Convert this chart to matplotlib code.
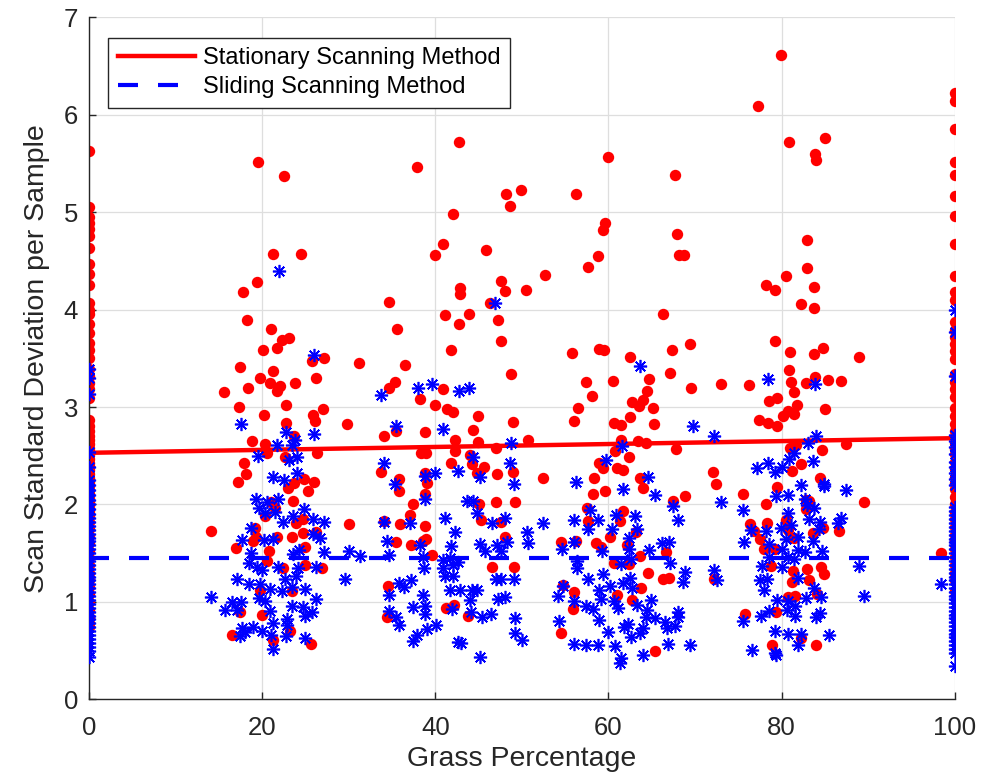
import numpy as np
import matplotlib
matplotlib.use('Agg')
import matplotlib.pyplot as plt

plt.rcParams['font.family'] = ['Liberation Sans', 'DejaVu Sans']

# ---- datos ----
# columnas en 0% y 100% de cesped (solo valores de y)
stat_0_y = [5.63, 5.05, 4.95, 4.89, 4.83, 4.76, 4.63, 4.47, 4.36, 4.25, 4.07, 4.00, 3.95, 3.85,
            3.76, 3.66, 3.58, 3.50, 3.39, 3.32, 3.25, 3.18, 3.09, 2.87, 2.80, 2.75, 2.70, 2.66,
            2.62, 2.58, 2.55, 2.51, 2.47, 2.43, 2.39, 2.35, 2.31, 2.27, 2.23, 2.19, 2.15, 2.11,
            2.07, 2.03, 1.98, 1.93, 1.88, 1.82, 1.75, 1.68, 1.60, 1.52, 1.45, 1.38, 1.30, 1.22,
            1.15, 1.08, 1.00, 0.92, 0.85, 0.78, 0.74]
slide_0_y = [3.39, 3.30, 3.13, 2.54, 2.38, 2.25, 2.20, 2.15, 2.10, 2.05, 2.00, 1.95, 1.90, 1.86,
             1.82, 1.78, 1.74, 1.70, 1.66, 1.62, 1.58, 1.54, 1.50, 1.46, 1.42, 1.38, 1.34, 1.30,
             1.26, 1.22, 1.18, 1.14, 1.10, 1.06, 1.02, 0.98, 0.94, 0.90, 0.86, 0.82, 0.78, 0.74,
             0.70, 0.66, 0.62, 0.58, 0.54, 0.50, 0.43]
stat_100_y = [6.22, 6.14, 5.85, 5.51, 5.38, 5.17, 4.96, 4.67, 4.34, 4.18, 4.10, 3.87, 3.79, 3.72,
              3.65, 3.57, 3.49, 3.34, 3.26, 3.18, 3.10, 2.99, 2.91, 2.83, 2.75, 2.69, 2.63, 2.57,
              2.52, 2.44, 2.36, 2.28, 2.22, 2.16, 2.08, 2.00, 1.92, 1.85, 1.77, 1.69, 1.62, 1.54,
              1.46, 1.38, 1.30, 1.22, 1.11]
slide_100_y = [4.00, 3.77, 3.32, 2.71, 2.65, 2.59, 2.52, 2.44, 2.38, 2.32, 2.26, 2.20, 1.97, 1.93,
               1.89, 1.85, 1.81, 1.77, 1.73, 1.69, 1.65, 1.61, 1.58, 1.54, 1.50, 1.46, 1.42, 1.38,
               1.34, 1.30, 1.26, 1.22, 1.18, 1.14, 1.10, 1.06, 1.03, 0.99, 0.95, 0.91, 0.87, 0.83,
               0.79, 0.75, 0.71, 0.67, 0.64, 0.60, 0.56, 0.52, 0.48, 0.34]

# grupos intermedios: (porcentaje, desviacion)
stat_20 = [(19.5, 5.51), (22.5, 5.37), (21.2, 4.57), (24.5, 4.57), (19.4, 4.28), (17.8, 4.18),
           (18.2, 3.89), (21.0, 3.80), (22.3, 3.69), (23.1, 3.71), (20.1, 3.58), (21.7, 3.61),
           (27.1, 3.50), (25.8, 3.47), (31.2, 3.45), (17.4, 3.41), (21.2, 3.37), (26.2, 3.30),
           (19.8, 3.30), (20.9, 3.25), (22.1, 3.22), (18.4, 3.20), (23.8, 3.25), (21.7, 3.16),
           (15.6, 3.15), (17.3, 3.00), (22.7, 3.02), (27.0, 2.98), (20.2, 2.92), (25.9, 2.92),
           (26.1, 2.86), (29.8, 2.83), (22.8, 2.84), (23.7, 2.70), (18.8, 2.65), (20.3, 2.62),
           (20.6, 2.53), (22.6, 2.49), (26.3, 2.53), (17.9, 2.43), (18.1, 2.31), (17.2, 2.23),
           (23.0, 2.17), (23.7, 2.22), (24.8, 2.26), (26.0, 2.23), (25.3, 2.14), (23.6, 2.04),
           (21.0, 2.03), (21.5, 1.96), (20.3, 1.88), (23.9, 1.81), (24.7, 1.85), (30.0, 1.80),
           (14.1, 1.73), (19.2, 1.76), (19.3, 1.67), (21.7, 1.67), (23.5, 1.67), (24.7, 1.71),
           (26.2, 1.72), (18.9, 1.62), (25.0, 1.56), (17.0, 1.55), (20.8, 1.52), (20.6, 1.42),
           (25.0, 1.38), (26.9, 1.35), (22.4, 1.35), (19.8, 1.12), (23.4, 1.11), (17.4, 0.90),
           (20.0, 0.87), (16.5, 0.66), (21.3, 0.61), (23.2, 0.70), (25.7, 0.57)]
slide_20 = [(22.0, 4.40), (26.0, 3.53), (17.5, 2.83), (22.7, 2.74), (26.0, 2.72), (21.7, 2.61),
            (23.4, 2.61), (23.8, 2.66), (19.5, 2.50), (23.1, 2.46), (24.0, 2.49), (21.2, 2.28),
            (22.5, 2.25), (24.0, 2.32), (19.3, 2.06), (20.6, 2.03), (21.8, 2.06), (19.6, 1.96),
            (20.3, 1.91), (21.5, 1.92), (24.8, 1.95), (22.4, 1.82), (23.6, 1.88), (25.9, 1.85),
            (27.1, 1.82), (18.7, 1.76), (17.7, 1.64), (20.2, 1.64), (21.2, 1.65), (25.9, 1.70),
            (26.7, 1.66), (24.3, 1.53), (23.6, 1.49), (18.7, 1.50), (27.1, 1.51), (30.0, 1.52),
            (31.3, 1.47), (18.5, 1.40), (19.4, 1.36), (20.0, 1.33), (21.8, 1.36), (24.1, 1.35),
            (26.2, 1.36), (22.6, 1.24), (23.9, 1.27), (29.6, 1.23), (17.1, 1.23), (18.5, 1.18),
            (19.8, 1.18), (20.9, 1.13), (22.3, 1.11), (23.4, 1.15), (24.9, 1.13), (14.1, 1.05),
            (16.5, 1.00), (17.5, 1.00), (15.7, 0.92), (17.1, 0.92), (19.6, 1.04), (20.3, 1.01),
            (26.2, 1.03), (20.9, 0.91), (23.4, 0.96), (24.7, 0.95), (24.9, 0.86), (25.8, 0.90),
            (22.9, 0.82), (21.3, 0.78), (17.7, 0.73), (18.9, 0.74), (20.0, 0.70), (21.0, 0.66),
            (17.4, 0.65), (22.7, 0.65), (25.0, 0.63), (21.2, 0.52), (18.0, 0.69), (22.9, 0.76)]

stat_40 = [(42.7, 5.72), (37.9, 5.46), (48.2, 5.19), (49.9, 5.23), (48.6, 5.06), (42.0, 4.98),
           (40.9, 4.67), (40.0, 4.56), (45.9, 4.61), (47.6, 4.29), (42.9, 4.22), (42.8, 4.16),
           (48.1, 4.19), (50.5, 4.20), (34.7, 4.08), (46.3, 4.07), (41.1, 3.94), (43.9, 3.95),
           (42.7, 3.85), (47.2, 3.89), (35.6, 3.80), (47.6, 3.68), (41.8, 3.59), (36.5, 3.43),
           (48.7, 3.34), (35.3, 3.26), (34.7, 3.19), (40.9, 3.18), (38.2, 3.08), (40.0, 3.02),
           (41.3, 2.98), (42.1, 2.95), (44.9, 2.91), (49.0, 2.85), (34.1, 2.70), (35.5, 2.75),
           (38.8, 2.74), (44.4, 2.76), (42.3, 2.66), (44.9, 2.64), (50.7, 2.66), (47.0, 2.58),
           (38.3, 2.53), (38.9, 2.53), (42.3, 2.55), (44.0, 2.51), (41.8, 2.43), (44.3, 2.42),
           (45.6, 2.38), (33.7, 2.33), (38.8, 2.32), (44.8, 2.32), (47.1, 2.31), (49.0, 2.33),
           (35.8, 2.26), (39.1, 2.22), (35.8, 2.14), (38.8, 2.11), (37.4, 2.00), (45.0, 2.00),
           (47.0, 2.03), (49.2, 2.02), (37.1, 1.89), (35.9, 1.80), (38.8, 1.78), (45.3, 1.84),
           (47.6, 1.82), (34.1, 1.83), (48.0, 1.67), (38.9, 1.65), (38.6, 1.62), (35.5, 1.61),
           (37.2, 1.58), (39.6, 1.48), (46.5, 1.36), (49.1, 1.36), (34.5, 1.16), (34.4, 0.84),
           (42.2, 0.97), (41.2, 0.94), (43.8, 0.86), (52.5, 2.27), (52.7, 4.35)]
slide_40 = [(46.9, 4.07), (39.6, 3.24), (38.0, 3.19), (42.7, 3.16), (43.9, 3.19), (33.7, 3.12),
            (35.5, 2.80), (40.9, 2.77), (48.7, 2.63), (44.4, 2.49), (34.1, 2.43), (48.6, 2.43),
            (42.6, 2.34), (40.0, 2.32), (38.8, 2.29), (45.2, 2.28), (35.4, 2.21), (49.1, 2.21),
            (38.8, 2.06), (43.7, 2.04), (44.4, 2.04), (44.8, 1.91), (34.1, 1.82), (37.1, 1.81),
            (41.1, 1.86), (48.0, 1.86), (46.6, 1.81), (42.3, 1.72), (50.6, 1.72), (34.4, 1.63),
            (38.2, 1.58), (41.8, 1.57), (45.2, 1.59), (45.8, 1.52), (47.1, 1.58), (47.6, 1.52),
            (48.3, 1.61), (50.7, 1.60), (34.7, 1.48), (38.6, 1.46), (40.9, 1.43), (41.7, 1.45),
            (42.6, 1.41), (38.7, 1.35), (40.9, 1.35), (42.1, 1.38), (41.1, 1.27), (42.1, 1.27),
            (47.0, 1.24), (47.6, 1.24), (49.1, 1.24), (35.8, 1.19), (37.2, 1.22), (36.4, 1.15),
            (34.6, 1.07), (41.7, 1.12), (42.9, 1.12), (44.2, 1.12), (44.8, 1.12), (38.6, 1.07),
            (44.0, 1.02), (47.3, 1.03), (48.1, 1.05), (37.4, 0.95), (38.8, 0.96), (41.9, 0.93),
            (44.1, 0.90), (34.6, 0.91), (35.5, 0.85), (35.8, 0.76), (38.8, 0.88), (45.4, 0.85),
            (46.4, 0.88), (49.2, 0.83), (40.1, 0.76), (39.1, 0.72), (37.9, 0.66), (37.4, 0.60),
            (49.2, 0.68), (50.0, 0.61), (42.6, 0.59), (43.0, 0.58), (45.2, 0.43), (52.5, 1.81)]

stat_60 = [(59.9, 5.57), (67.7, 5.38), (56.3, 5.19), (59.6, 4.89), (59.4, 4.82), (67.9, 4.78),
           (68.1, 4.56), (68.7, 4.56), (58.8, 4.55), (57.7, 4.44), (66.3, 3.95), (69.4, 3.65),
           (55.8, 3.55), (58.9, 3.60), (59.5, 3.58), (67.4, 3.58), (62.5, 3.51), (67.1, 3.35),
           (64.7, 3.29), (57.4, 3.26), (60.5, 3.27), (69.6, 3.20), (64.5, 3.16), (58.1, 3.11),
           (62.7, 3.05), (64.0, 3.07), (63.5, 3.01), (65.1, 2.99), (56.5, 2.99), (56.0, 2.86),
           (62.5, 2.90), (60.7, 2.84), (61.5, 2.82), (65.3, 2.83), (61.5, 2.66), (63.4, 2.65),
           (64.4, 2.63), (60.8, 2.55), (67.8, 2.57), (62.4, 2.49), (58.9, 2.43), (59.4, 2.37),
           (61.0, 2.37), (61.7, 2.35), (72.1, 2.33), (72.4, 2.21), (58.3, 2.27), (63.6, 2.27),
           (64.0, 2.17), (58.2, 2.11), (59.6, 2.14), (68.8, 2.09), (67.5, 2.04), (57.5, 1.96),
           (61.7, 1.93), (57.6, 1.83), (61.3, 1.83), (63.2, 1.72), (60.2, 1.67), (54.5, 1.61),
           (56.3, 1.62), (58.6, 1.60), (59.1, 1.56), (62.1, 1.58), (66.7, 1.51), (63.6, 1.47),
           (60.7, 1.40), (62.4, 1.39), (64.6, 1.30), (66.3, 1.24), (67.0, 1.25), (72.2, 1.24),
           (54.8, 1.17), (56.0, 1.10), (63.8, 1.14), (61.0, 1.07), (62.7, 1.02), (55.9, 0.93),
           (54.5, 0.68), (65.4, 0.50)]
slide_60 = [(63.6, 3.42), (69.8, 2.81), (72.2, 2.70), (61.6, 2.60), (59.7, 2.46), (56.3, 2.23),
            (64.6, 2.28), (61.7, 2.16), (65.4, 2.10), (67.5, 1.98), (56.0, 1.84), (57.9, 1.94),
            (58.8, 1.84), (57.6, 1.75), (60.9, 1.89), (63.1, 1.88), (60.4, 1.75), (63.3, 1.75),
            (68.0, 1.84), (56.0, 1.61), (54.6, 1.54), (62.4, 1.66), (66.2, 1.60), (67.0, 1.61),
            (59.3, 1.52), (62.4, 1.54), (64.7, 1.53), (56.4, 1.42), (56.4, 1.35), (61.4, 1.39),
            (62.6, 1.44), (67.1, 1.40), (68.8, 1.31), (68.6, 1.20), (72.2, 1.33), (72.6, 1.22),
            (59.4, 1.29), (57.6, 1.23), (62.5, 1.25), (61.7, 1.19), (60.2, 1.16), (62.7, 1.14),
            (58.9, 1.12), (54.8, 1.16), (54.2, 1.06), (56.0, 1.01), (59.2, 1.03), (60.6, 1.01),
            (63.3, 0.97), (64.9, 1.02), (57.4, 0.96), (58.2, 0.93), (61.1, 0.94), (64.5, 0.92),
            (68.0, 0.90), (64.4, 0.85), (65.4, 0.83), (68.0, 0.84), (54.3, 0.80), (58.9, 0.81),
            (66.5, 0.79), (67.7, 0.75), (61.8, 0.74), (62.3, 0.77), (64.0, 0.73), (66.8, 0.73),
            (60.0, 0.69), (62.6, 0.64), (63.7, 0.68), (56.0, 0.57), (57.4, 0.56), (58.8, 0.56),
            (60.8, 0.55), (66.9, 0.57), (69.4, 0.56), (64.0, 0.46), (61.5, 0.42), (61.3, 0.37)]

stat_80 = [(79.9, 6.61), (77.3, 6.09), (80.9, 5.72), (85.0, 5.76), (83.9, 5.60), (84.0, 5.54),
           (83.0, 4.71), (83.0, 4.43), (80.5, 4.34), (78.2, 4.25), (79.3, 4.20), (83.8, 4.23),
           (82.3, 4.06), (83.8, 4.02), (79.2, 3.68), (81.0, 3.56), (83.7, 3.54), (84.8, 3.61),
           (88.9, 3.51), (80.9, 3.38), (83.9, 3.31), (85.4, 3.28), (86.9, 3.27), (81.1, 3.26),
           (82.8, 3.25), (76.2, 3.23), (73.0, 3.24), (81.5, 3.15), (78.5, 3.06), (79.5, 3.09),
           (81.8, 3.02), (80.8, 2.96), (81.5, 2.93), (85.0, 2.98), (77.4, 2.87), (78.4, 2.84),
           (80.2, 2.91), (79.5, 2.81), (81.0, 2.58), (81.7, 2.61), (84.7, 2.56), (87.5, 2.62),
           (82.2, 2.42), (81.2, 2.34), (84.5, 2.27), (79.5, 2.18), (75.5, 2.11), (78.2, 2.00),
           (82.8, 2.05), (83.2, 2.04), (82.8, 1.95), (89.5, 2.03), (76.4, 1.80), (78.3, 1.81),
           (80.5, 1.84), (80.7, 1.74), (83.6, 1.71), (84.8, 1.76), (86.6, 1.73), (76.8, 1.73),
           (77.5, 1.65), (81.5, 1.66), (78.0, 1.54), (79.2, 1.54), (78.8, 1.37), (81.3, 1.32),
           (82.9, 1.34), (84.6, 1.36), (84.9, 1.29), (81.2, 1.20), (83.2, 1.22), (84.1, 1.08),
           (80.7, 1.05), (81.6, 1.06), (79.4, 0.90), (75.8, 0.88), (82.3, 0.63), (78.9, 0.56),
           (84.0, 0.56), (98.4, 1.50)]
slide_80 = [(78.4, 3.29), (83.9, 3.24), (84.0, 2.70), (83.1, 2.63), (81.5, 2.53), (80.9, 2.47),
            (83.6, 2.45), (77.2, 2.37), (78.4, 2.43), (79.3, 2.33), (80.0, 2.38), (82.2, 2.20),
            (84.9, 2.21), (87.5, 2.15), (84.9, 2.19), (73.0, 2.02), (75.6, 1.94), (79.4, 2.09),
            (80.8, 2.10), (82.7, 2.06), (82.9, 1.99), (83.8, 1.96), (80.8, 1.91), (83.2, 1.85),
            (84.5, 1.82), (86.9, 1.86), (86.5, 1.81), (76.5, 1.74), (78.2, 1.73), (79.9, 1.76),
            (81.1, 1.79), (84.3, 1.75), (75.7, 1.61), (78.6, 1.59), (80.5, 1.65), (81.9, 1.67),
            (83.6, 1.62), (80.1, 1.54), (81.9, 1.53), (82.7, 1.51), (84.7, 1.52), (78.6, 1.46),
            (80.8, 1.46), (81.5, 1.44), (77.8, 1.37), (80.1, 1.36), (81.9, 1.25), (88.9, 1.37),
            (77.5, 1.22), (78.3, 1.24), (78.0, 1.12), (83.8, 1.14), (82.8, 1.04), (84.6, 1.05),
            (89.5, 1.06), (79.5, 1.02), (80.8, 1.01), (81.6, 0.96), (78.6, 0.91), (80.6, 0.92),
            (81.6, 0.86), (77.6, 0.86), (84.5, 0.89), (84.0, 0.84), (75.5, 0.80), (79.3, 0.70),
            (80.7, 0.67), (82.2, 0.67), (85.5, 0.66), (81.9, 0.56), (76.6, 0.51), (79.3, 0.48),
            (79.4, 0.45), (98.4, 1.18)]

# rectas de ajuste (extremos leidos)
fit_x = [0, 100]
stat_fit = [2.53, 2.68]
slide_fit = [1.45, 1.45]

xticks = [0, 20, 40, 60, 80, 100]
yticks = [0, 1, 2, 3, 4, 5, 6, 7]


def juntar(col0, col100, grupos):
    xs = [0.0] * len(col0) + [100.0] * len(col100)
    ys = list(col0) + list(col100)
    for g in grupos:
        xs += [p[0] for p in g]
        ys += [p[1] for p in g]
    return np.array(xs), np.array(ys)


stat_x, stat_y = juntar(stat_0_y, stat_100_y, [stat_20, stat_40, stat_60, stat_80])
slide_x, slide_y = juntar(slide_0_y, slide_100_y, [slide_20, slide_40, slide_60, slide_80])

gris = '#262626'
fig = plt.figure(figsize=(10.07, 7.84), dpi=100)
ax = fig.add_axes([0.0884, 0.108, 0.8596, 0.870])

ax.plot(stat_x, stat_y, linestyle='none', marker='o', markersize=8.2,
        markerfacecolor='red', markeredgecolor='none', zorder=2)
l1, = ax.plot(fit_x, stat_fit, color='red', linewidth=3.2, zorder=2.5,
              label='Stationary Scanning Method')
ax.plot(slide_x, slide_y, linestyle='none', marker=(8, 2, 0), markersize=9.5,
        markeredgecolor='blue', markeredgewidth=1.2, zorder=3)
l2, = ax.plot(fit_x, slide_fit, color='blue', linewidth=3, linestyle=(0, (4.8, 4.8)),
              zorder=3.5, label='Sliding Scanning Method')

ax.set_xlim(0, 100)
ax.set_ylim(0, 7)
ax.set_xticks(xticks)
ax.set_yticks(yticks)
ax.grid(True, color='#dedede', linewidth=0.9)
ax.set_axisbelow(True)

for s in ['top', 'right']:
    ax.spines[s].set_visible(False)
for s in ['left', 'bottom']:
    ax.spines[s].set_color(gris)
    ax.spines[s].set_linewidth(1.0)
ax.tick_params(direction='in', length=5, width=1, colors=gris, labelsize=18.5)
ax.tick_params(axis='x', pad=12)
ax.tick_params(axis='y', pad=8)

ax.set_xlabel('Grass Percentage', fontsize=20.5, color=gris, labelpad=4)
ax.set_ylabel('Scan Standard Deviation per Sample', fontsize=20.5, color=gris, labelpad=10)

leg = ax.legend(handles=[l1, l2], loc='upper left', bbox_to_anchor=(0.022, 0.970),
                borderaxespad=0, fontsize=17, handlelength=3.3, handletextpad=0.3,
                borderpad=0.4, labelspacing=0.3, fancybox=False, framealpha=1)
leg.get_frame().set_edgecolor(gris)
leg.get_frame().set_linewidth(1.0)

plt.savefig('out.png', dpi=100)
